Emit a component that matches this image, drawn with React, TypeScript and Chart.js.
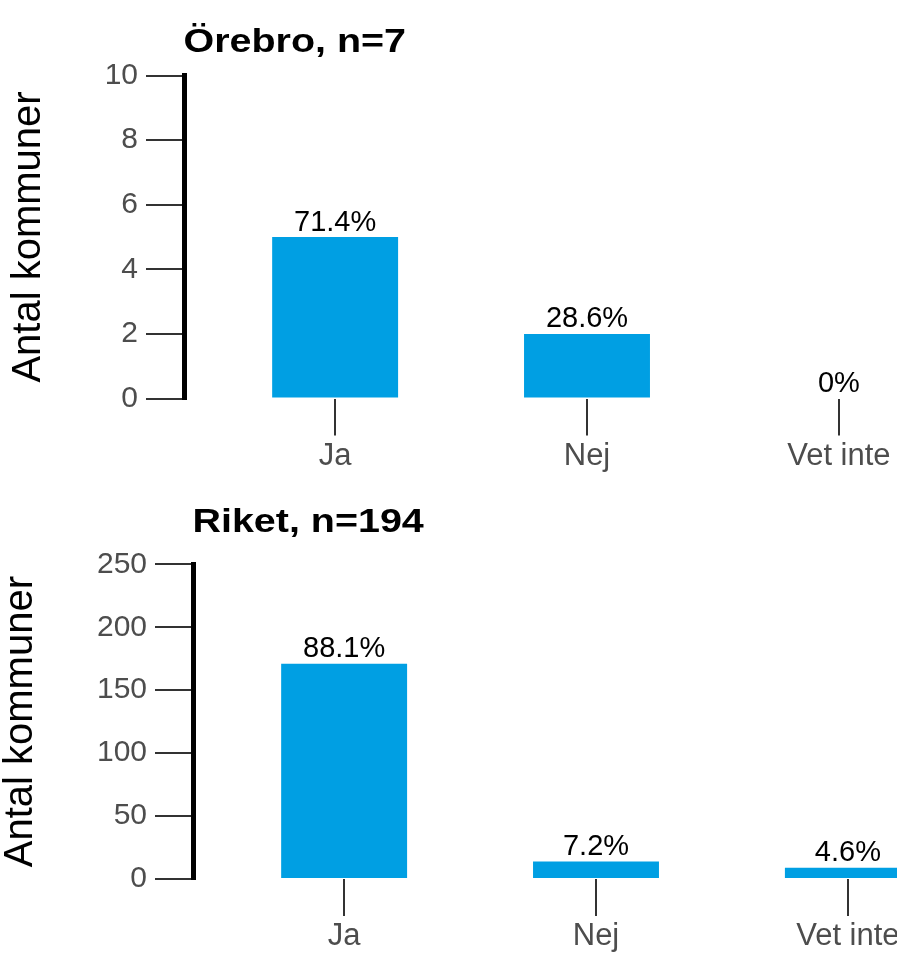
import React, { useEffect, useRef } from 'react';
import { Chart, registerables } from 'chart.js';

Chart.register(...registerables);

// ---------- data ----------
const categories = ['Ja', 'Nej', 'Vet inte'];

const orebroTitle = 'Örebro, n=7';
const orebroValues = [5, 2, 0];
const orebroLabels = ['71.4%', '28.6%', '0%'];
const orebroYTicks = [0, 2, 4, 6, 8, 10];

const riketTitle = 'Riket, n=194';
const riketValues = [171, 14, 9];
const riketLabels = ['88.1%', '7.2%', '4.6%'];
const riketYTicks = [0, 50, 100, 150, 200, 250];

const yAxisTitle = 'Antal kommuner';

// ---------- styles ----------
const FONT = '"Liberation Sans", Arial, Helvetica, sans-serif';
const BAR_COLOR = '#009FE3';
const TICK_TEXT = '#4d4d4d';
const TICK_LINE = '#333333';

type PanelProps = {
  title: string;
  values: number[];
  labels: string[];
  yTicks: number[];
  width: number;
  height: number;
  areaLeft: number;
  areaTop: number;
  areaBottom: number;
  titleBaseline: number;
  yTitlePad: number;
  top: number;
};

function Panel(p: PanelProps) {
  const ref = useRef<HTMLCanvasElement | null>(null);

  useEffect(() => {
    const canvas = ref.current;
    if (!canvas) return;

    const valueLabelPlugin = {
      id: 'valueLabels',
      afterDatasetsDraw(chart: any) {
        const ctx = chart.ctx;
        const meta = chart.getDatasetMeta(0);
        ctx.save();
        ctx.font = `29px ${FONT}`;
        ctx.fillStyle = '#000000';
        ctx.textAlign = 'center';
        ctx.textBaseline = 'alphabetic';
        meta.data.forEach((bar: any, i: number) => {
          ctx.fillText(p.labels[i], bar.x, bar.y - 6.5);
        });
        ctx.restore();
      },
    };

    const titlePlugin = {
      id: 'panelTitle',
      afterDraw(chart: any) {
        const ctx = chart.ctx;
        ctx.save();
        ctx.font = `bold 34px ${FONT}`;
        ctx.fillStyle = '#000000';
        ctx.textAlign = 'left';
        ctx.textBaseline = 'alphabetic';
        ctx.translate(chart.chartArea.left - 0.5, p.titleBaseline);
        ctx.scale(1.16, 1);
        ctx.fillText(p.title, 0, 0);
        ctx.restore();
      },
    };

    const chart = new Chart(canvas, {
      type: 'bar',
      data: {
        datasets: [
          {
            data: p.values.map((v, i) => ({ x: i + 1, y: v })),
            backgroundColor: BAR_COLOR,
            borderWidth: 0,
            barPercentage: 0.5,
            categoryPercentage: 1,
          },
        ],
      },
      options: {
        animation: false,
        responsive: false,
        devicePixelRatio: 1,
        layout: { padding: { top: p.areaTop, left: 0, right: 0, bottom: 0 } },
        plugins: {
          legend: { display: false },
          tooltip: { enabled: false },
          title: { display: false },
        },
        scales: {
          x: {
            type: 'linear',
            min: 0.4,
            max: 3.6,
            offset: false,
            afterBuildTicks: (s: any) => {
              s.ticks = categories.map((_, i) => ({ value: i + 1 }));
            },
            afterFit: (s: any) => {
              s.height = p.height - p.areaBottom;
            },
            ticks: {
              callback: (v: any) => categories[Math.round(Number(v)) - 1] ?? '',
              autoSkip: false,
              maxRotation: 0,
              minRotation: 0,
              padding: 2,
              color: TICK_TEXT,
              font: { family: FONT, size: 31 },
            },
            grid: {
              offset: false,
              drawOnChartArea: false,
              drawTicks: true,
              tickLength: 37,
              color: TICK_LINE,
              lineWidth: 2,
            },
            border: { display: false },
          },
          y: {
            min: 0,
            max: p.yTicks[p.yTicks.length - 1],
            afterBuildTicks: (s: any) => {
              s.ticks = p.yTicks.map((v) => ({ value: v }));
            },
            afterFit: (s: any) => {
              s.width = p.areaLeft;
            },
            ticks: {
              padding: 8,
              color: TICK_TEXT,
              font: { family: FONT, size: 30 },
            },
            grid: {
              drawOnChartArea: false,
              drawTicks: true,
              tickLength: 38,
              color: TICK_LINE,
              lineWidth: 2,
            },
            border: { display: true, color: '#000000', width: 5 },
            title: {
              display: true,
              text: yAxisTitle,
              color: '#000000',
              font: { family: FONT, size: 40, lineHeight: 1 },
              padding: { top: p.yTitlePad, bottom: 0 },
            },
          },
        },
      } as any,
      plugins: [valueLabelPlugin, titlePlugin],
    });

    return () => {
      chart.destroy();
    };
  }, []);

  return (
    <canvas
      ref={ref}
      width={p.width}
      height={p.height}
      style={{
        position: 'absolute',
        left: 0,
        top: p.top,
        width: p.width,
        height: p.height,
        display: 'block',
      }}
    />
  );
}

export default function App() {
  return (
    <div
      style={{
        position: 'absolute',
        left: 0,
        top: 0,
        width: 897,
        height: 954,
        overflow: 'hidden',
        background: '#ffffff',
      }}
    >
      <Panel
        title={orebroTitle}
        values={orebroValues}
        labels={orebroLabels}
        yTicks={orebroYTicks}
        width={990}
        height={477}
        areaLeft={184}
        areaTop={75.5}
        areaBottom={398.5}
        titleBaseline={52.3}
        yTitlePad={9.4}
        top={0}
      />
      <Panel
        title={riketTitle}
        values={riketValues}
        labels={riketLabels}
        yTicks={riketYTicks}
        width={999}
        height={477}
        areaLeft={193}
        areaTop={87.3}
        areaBottom={402}
        titleBaseline={55.3}
        yTitlePad={1.1}
        top={477}
      />
    </div>
  );
}
